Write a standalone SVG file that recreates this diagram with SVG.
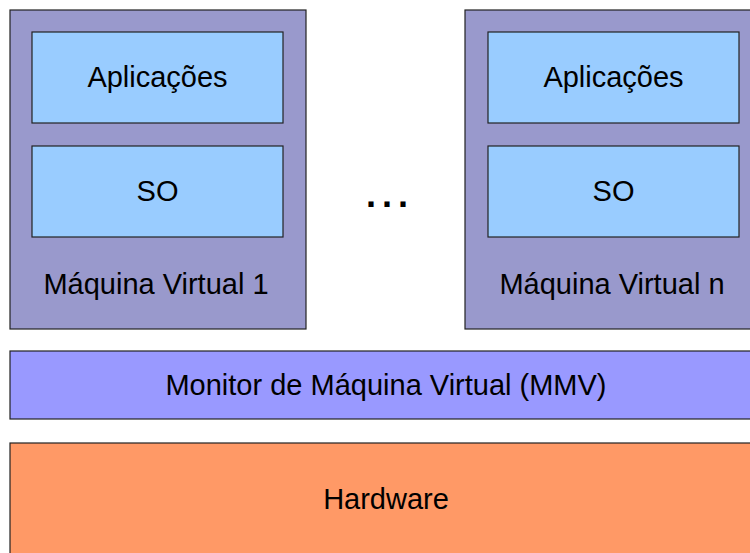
<svg xmlns="http://www.w3.org/2000/svg" width="750" height="553" viewBox="0 0 750 553">
<style>
.box{stroke:#222;stroke-width:1.2}
.vm{fill:#9999cc}
.in{fill:#99ccff}
.t{font-family:"Liberation Sans",Arial,sans-serif;font-size:29px;fill:#000;text-anchor:middle}
</style>
<rect width="750" height="553" fill="#fff"/>
<g id="vm1">
<rect class="box vm" x="10" y="10" width="296" height="319"/>
<text class="t" x="156" y="294">Máquina Virtual 1</text>
</g>
<g id="vm1-app">
<rect class="box in" x="32" y="32" width="251" height="91"/>
<text class="t" x="157.5" y="87">Aplicações</text>
</g>
<g id="vm1-so">
<rect class="box in" x="32" y="146" width="251" height="91"/>
<text class="t" x="157.5" y="201">SO</text>
</g>
<g id="vmn">
<rect class="box vm" x="465" y="10" width="300" height="319"/>
<text class="t" x="612" y="294">Máquina Virtual n</text>
</g>
<g id="vmn-app">
<rect class="box in" x="488" y="32" width="251" height="91"/>
<text class="t" x="613.5" y="87">Aplicações</text>
</g>
<g id="vmn-so">
<rect class="box in" x="488" y="146" width="251" height="91"/>
<text class="t" x="613.5" y="201">SO</text>
</g>
<g id="dots">
<text x="366" y="207" style="font-family:'Liberation Sans',Arial,sans-serif;font-size:36px;font-weight:bold;letter-spacing:6px">...</text>
</g>
<g id="mmv">
<rect class="box" fill="#9999ff" x="10" y="351" width="760" height="68"/>
<text class="t" x="386" y="395">Monitor de Máquina Virtual (MMV)</text>
</g>
<g id="hardware">
<rect class="box" fill="#ff9966" x="10" y="443" width="760" height="130"/>
<text class="t" x="386" y="509">Hardware</text>
</g>
<g id="connectors"/>
</svg>
